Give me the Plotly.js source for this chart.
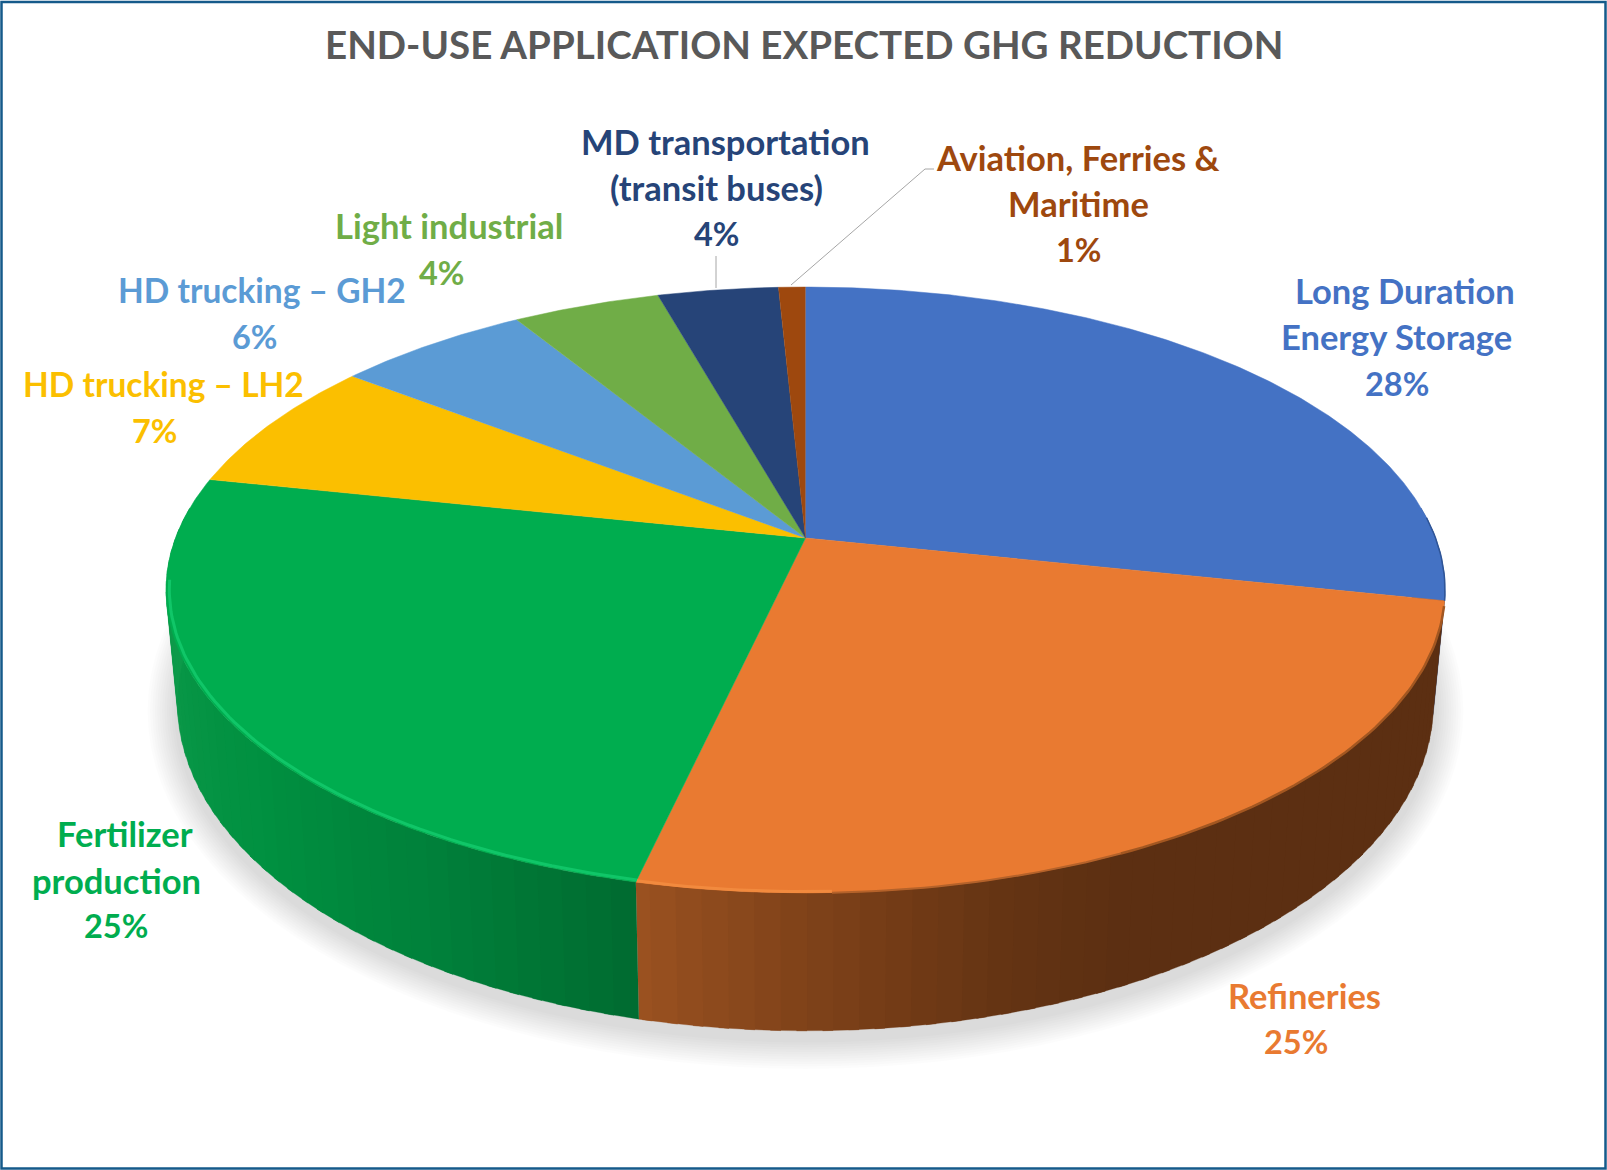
<!DOCTYPE html>
<html>
<head>
<meta charset="utf-8">
<script src="https://cdn.plot.ly/plotly-3.0.1.min.js"></script>
<style>html,body{margin:0;padding:0;background:#fff}#chart{width:1607px;height:1170px}</style>
</head>
<body>
<div id="chart"></div>
<script>
// ---- data ----
const titleText = 'END-USE APPLICATION EXPECTED GHG REDUCTION';
const categories = ['Long Duration Energy Storage','Refineries','Fertilizer production','HD trucking – LH2','HD trucking – GH2','Light industrial','MD transportation (transit buses)','Aviation, Ferries & Maritime'];
const values = [28.3, 25.3, 24.7, 7.1, 5.8, 4.4, 3.6, 0.8];
const colors = ['#4472c4','#e97a31','#00ad4f','#fbbf00','#5b9bd5','#70ad47','#264478','#9e480e'];
const labelLines = [
  ['Long Duration','Energy Storage'],
  ['Refineries'],
  ['Fertilizer','production'],
  ['HD trucking – LH2'],
  ['HD trucking – GH2'],
  ['Light industrial'],
  ['MD transportation','(transit buses)'],
  ['Aviation, Ferries &','Maritime']
];

// ---- layout of the labels: centre of every line, name text then percent ----
const labelPos = [
  [[1405,290],[1396,336],[1397,383]],
  [[1304,995],[1296,1041]],
  [[125,833],[116,880],[116,925]],
  [[163,384],[154,430]],
  [[262,290],[254,336]],
  [[449,225],[441,272]],
  [[725,141],[716,187],[716,233]],
  [[1078,157],[1078,203],[1078,249]]
];
const nameSize = [34.5,34.5,34.5,33.5,33.5,34.5,34.5,34.5];
const percentSize = 32.5;
const FONT = 'Lato, "Open Sans", sans-serif';

// ---- perspective model of the disc ----
const cx = 805.5, k = 0.1716;
const topPlane = {y0:538, H:294, R:630};
const botPlane = {y0:647, H:318, R:618.7};
function proj(pl, deg, f){
  const t = deg*Math.PI/180, X = Math.sin(t)*(f||1), Y = Math.cos(t)*(f||1), d = 1+k*Y;
  return [cx + pl.R*X/d, pl.y0 - pl.H*Y/d];
}
function range(a,b,step){
  const out=[]; const n=Math.max(1,Math.ceil(Math.abs(b-a)/step));
  for(let i=0;i<=n;i++) out.push(a+(b-a)*i/n);
  return out;
}
const total = values.reduce((a,b)=>a+b,0);
const edges = [0]; values.forEach(v=>edges.push(edges[edges.length-1]+v/total*360));

function hex(c){return [1,3,5].map(i=>parseInt(c.substr(i,2),16));}
function ramp(stops,t){
  for(let i=0;i<stops.length-1;i++){
    const [a,ca]=stops[i],[b,cb]=stops[i+1];
    if(t>=a&&t<=b){
      const u=(t-a)/(b-a),A=hex(ca),B=hex(cb);
      return 'rgb('+A.map((v,j)=>Math.round(v+(B[j]-v)*u)).join(',')+')';
    }
  }
  return stops[stops.length-1][1];
}
const wallStops = [
  [60,'#2b4a82'],[edges[1],'#2b4a82'],[edges[1]+0.001,'#5c2f12'],
  [155,'#5c2f12'],[165,'#653413'],[180,'#7f4219'],[edges[2],'#9a5120'],
  [edges[2]+0.001,'#006b30'],[210,'#00803a'],[230,'#009040'],[262,'#0d9a4a'],[290,'#0d9a4a']
];

const traces = [];
function poly(xs,ys,fill,lineColor,lineW){
  traces.push({type:'scatter',mode:'lines',x:xs,y:ys,fill:'toself',fillcolor:fill,
    line:{color:lineColor||fill,width:lineW||0},hoverinfo:'skip',showlegend:false});
}
function path(pts,color,width){
  traces.push({type:'scatter',mode:'lines',x:pts.map(p=>p[0]),y:pts.map(p=>p[1]),
    line:{color:color,width:width,shape:'linear'},hoverinfo:'skip',showlegend:false});
}

// soft shadow under the disc
const shadowAngles = range(0,360,3);
for(let e=30;e>=2;e-=2.4){
  const xs=[],ys=[];
  shadowAngles.forEach(a=>{
    const t=a*Math.PI/180;
    xs.push(cx+(628+e)*Math.sin(t)); ys.push(711+(328+e)*Math.cos(t));
  });
  poly(xs,ys,'rgba(0,0,0,0.0105)','rgba(0,0,0,0)',0);
}

// side wall, shaded strip by strip, one run per visible slice
const wallStep = 2;
[[84,edges[1]],[edges[1],edges[2]],[edges[2],276]].forEach(run=>{
  for(let a=run[0];a<run[1];a+=wallStep){
    const b=Math.min(a+wallStep*1.4,run[1]);
    const pts=[proj(topPlane,a),proj(topPlane,b),proj(botPlane,b),proj(botPlane,a)];
    const col=ramp(wallStops,Math.min(a+wallStep/2,run[1]-0.01));
    poly(pts.map(p=>p[0]),pts.map(p=>p[1]),col,col,0.3);
  }
});

// top face: one sector per value
values.forEach((v,i)=>{
  const arc=range(edges[i],edges[i+1],0.5).map(a=>proj(topPlane,a));
  const xs=[cx].concat(arc.map(p=>p[0])),ys=[topPlane.y0].concat(arc.map(p=>p[1]));
  poly(xs,ys,colors[i],colors[i],0.5);
});

// rim lighting
path(range(86,edges[1],1).map(a=>proj(topPlane,a)),'#2f5597',1.5);
path(range(edges[1]+1,155,1).map(a=>proj(topPlane,a)),'#a35721',2.5);
path(range(155,178,1).map(a=>proj(topPlane,a)),'#b5622a',2);
path(range(178,edges[2],1).map(a=>proj(topPlane,a,0.997)),'#f28a3e',3);
path(range(edges[2],262,1).map(a=>proj(topPlane,a,0.995)),'#10c668',3);

// leader lines
const leaderMD = [[716,256],[716,288]];
const leaderAviation = [[791,285],[925,169],[934,169]];
path(leaderMD,'#a6a6a6',1);
path(leaderAviation,'#a6a6a6',1);

// text
const annotations = [{
  x:803.5,y:44,xref:'x',yref:'y',text:'<b>'+titleText+'</b>',showarrow:false,
  xanchor:'center',yanchor:'middle',font:{family:FONT,size:38.5,color:'#595959'}
}];
categories.forEach((c,i)=>{
  const names=labelLines[i];
  names.concat([Math.round(values[i])+'%']).forEach((t,j)=>{
    annotations.push({x:labelPos[i][j][0],y:labelPos[i][j][1],xref:'x',yref:'y',
      text:'<b>'+t.replace('&','&amp;')+'</b>',showarrow:false,xanchor:'center',yanchor:'middle',
      font:{family:FONT,size:j<names.length?nameSize[i]:percentSize,color:colors[i]}});
  });
});

const layout = {
  width:1607,height:1170,margin:{l:0,r:0,t:0,b:0,pad:0},
  paper_bgcolor:'#ffffff',plot_bgcolor:'#ffffff',showlegend:false,
  xaxis:{range:[0,1607],visible:false,fixedrange:true},
  yaxis:{range:[1170,0],visible:false,fixedrange:true},
  annotations:annotations,
  shapes:[{type:'rect',xref:'x',yref:'y',x0:1.5,y0:2,x1:1605.5,y1:1168.5,
    line:{color:'#155a8a',width:2.5},fillcolor:'rgba(0,0,0,0)'}]
};
Plotly.newPlot('chart',traces,layout,{displayModeBar:false,staticPlot:true});
</script>
</body>
</html>
